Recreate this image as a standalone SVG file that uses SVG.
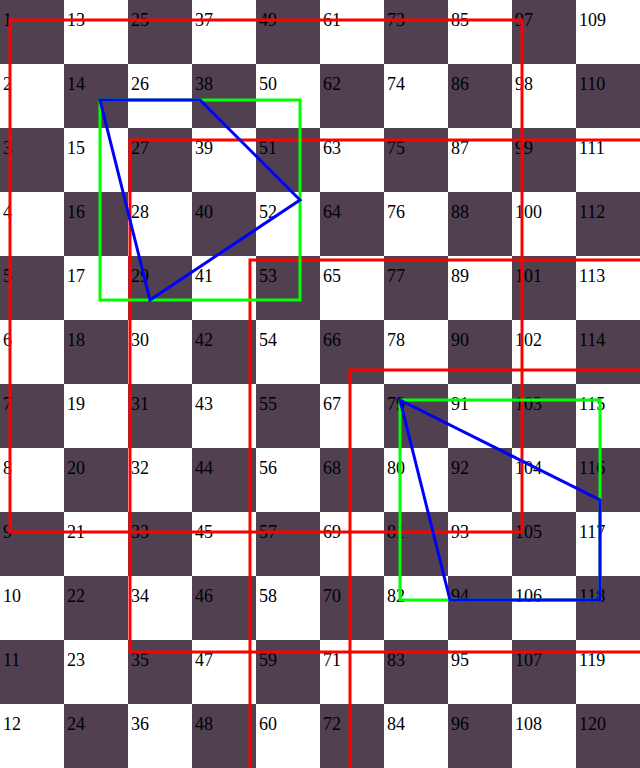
<svg xmlns="http://www.w3.org/2000/svg" width="640" height="768" viewBox="0 0 640 768">
<style>
text{font-family:"Liberation Serif","Times New Roman",serif;font-size:18px;fill:#000}
.r{fill:none;stroke:#ff0000;stroke-width:3}
.g{fill:none;stroke:#00ff00;stroke-width:3}
.b{fill:none;stroke:#0000ff;stroke-width:3}
</style>
<defs>
<pattern id="chk" x="0" y="0" width="128" height="128" patternUnits="userSpaceOnUse">
<rect x="0" y="0" width="128" height="128" fill="#ffffff"/>
<rect x="0" y="0" width="64" height="64" fill="#504050"/>
<rect x="64" y="64" width="64" height="64" fill="#504050"/>
</pattern>
</defs>
<rect id="board" x="0" y="0" width="640" height="768" fill="url(#chk)"/>
<g id="labels" transform="translate(1,1)">
<text x="2" y="25">1</text><text x="2" y="89">2</text><text x="2" y="153">3</text><text x="2" y="217">4</text><text x="2" y="281">5</text><text x="2" y="345">6</text><text x="2" y="409">7</text><text x="2" y="473">8</text><text x="2" y="537">9</text><text x="2" y="601">10</text><text x="2" y="665">11</text><text x="2" y="729">12</text>
<text x="66" y="25">13</text><text x="66" y="89">14</text><text x="66" y="153">15</text><text x="66" y="217">16</text><text x="66" y="281">17</text><text x="66" y="345">18</text><text x="66" y="409">19</text><text x="66" y="473">20</text><text x="66" y="537">21</text><text x="66" y="601">22</text><text x="66" y="665">23</text><text x="66" y="729">24</text>
<text x="130" y="25">25</text><text x="130" y="89">26</text><text x="130" y="153">27</text><text x="130" y="217">28</text><text x="130" y="281">29</text><text x="130" y="345">30</text><text x="130" y="409">31</text><text x="130" y="473">32</text><text x="130" y="537">33</text><text x="130" y="601">34</text><text x="130" y="665">35</text><text x="130" y="729">36</text>
<text x="194" y="25">37</text><text x="194" y="89">38</text><text x="194" y="153">39</text><text x="194" y="217">40</text><text x="194" y="281">41</text><text x="194" y="345">42</text><text x="194" y="409">43</text><text x="194" y="473">44</text><text x="194" y="537">45</text><text x="194" y="601">46</text><text x="194" y="665">47</text><text x="194" y="729">48</text>
<text x="258" y="25">49</text><text x="258" y="89">50</text><text x="258" y="153">51</text><text x="258" y="217">52</text><text x="258" y="281">53</text><text x="258" y="345">54</text><text x="258" y="409">55</text><text x="258" y="473">56</text><text x="258" y="537">57</text><text x="258" y="601">58</text><text x="258" y="665">59</text><text x="258" y="729">60</text>
<text x="322" y="25">61</text><text x="322" y="89">62</text><text x="322" y="153">63</text><text x="322" y="217">64</text><text x="322" y="281">65</text><text x="322" y="345">66</text><text x="322" y="409">67</text><text x="322" y="473">68</text><text x="322" y="537">69</text><text x="322" y="601">70</text><text x="322" y="665">71</text><text x="322" y="729">72</text>
<text x="386" y="25">73</text><text x="386" y="89">74</text><text x="386" y="153">75</text><text x="386" y="217">76</text><text x="386" y="281">77</text><text x="386" y="345">78</text><text x="386" y="409">79</text><text x="386" y="473">80</text><text x="386" y="537">81</text><text x="386" y="601">82</text><text x="386" y="665">83</text><text x="386" y="729">84</text>
<text x="450" y="25">85</text><text x="450" y="89">86</text><text x="450" y="153">87</text><text x="450" y="217">88</text><text x="450" y="281">89</text><text x="450" y="345">90</text><text x="450" y="409">91</text><text x="450" y="473">92</text><text x="450" y="537">93</text><text x="450" y="601">94</text><text x="450" y="665">95</text><text x="450" y="729">96</text>
<text x="514" y="25">97</text><text x="514" y="89">98</text><text x="514" y="153">99</text><text x="514" y="217">100</text><text x="514" y="281">101</text><text x="514" y="345">102</text><text x="514" y="409">103</text><text x="514" y="473">104</text><text x="514" y="537">105</text><text x="514" y="601">106</text><text x="514" y="665">107</text><text x="514" y="729">108</text>
<text x="578" y="25">109</text><text x="578" y="89">110</text><text x="578" y="153">111</text><text x="578" y="217">112</text><text x="578" y="281">113</text><text x="578" y="345">114</text><text x="578" y="409">115</text><text x="578" y="473">116</text><text x="578" y="537">117</text><text x="578" y="601">118</text><text x="578" y="665">119</text><text x="578" y="729">120</text>
</g>
<g id="red-rects">
<rect class="r" x="10" y="20" width="512" height="512"/>
<rect class="r" x="130" y="140" width="512" height="512"/>
<rect class="r" x="250" y="260" width="512" height="512"/>
<rect class="r" x="350" y="370" width="512" height="512"/>
</g>
<g id="green-rects">
<rect class="g" x="100" y="100" width="200" height="200"/>
<rect class="g" x="400" y="400" width="200" height="200"/>
</g>
<g id="blue-polys">
<polygon class="b" points="100,100 200,100 300,200 150,300"/>
<polygon class="b" points="400,400 600,500 600,600 450,600"/>
</g>
</svg>
